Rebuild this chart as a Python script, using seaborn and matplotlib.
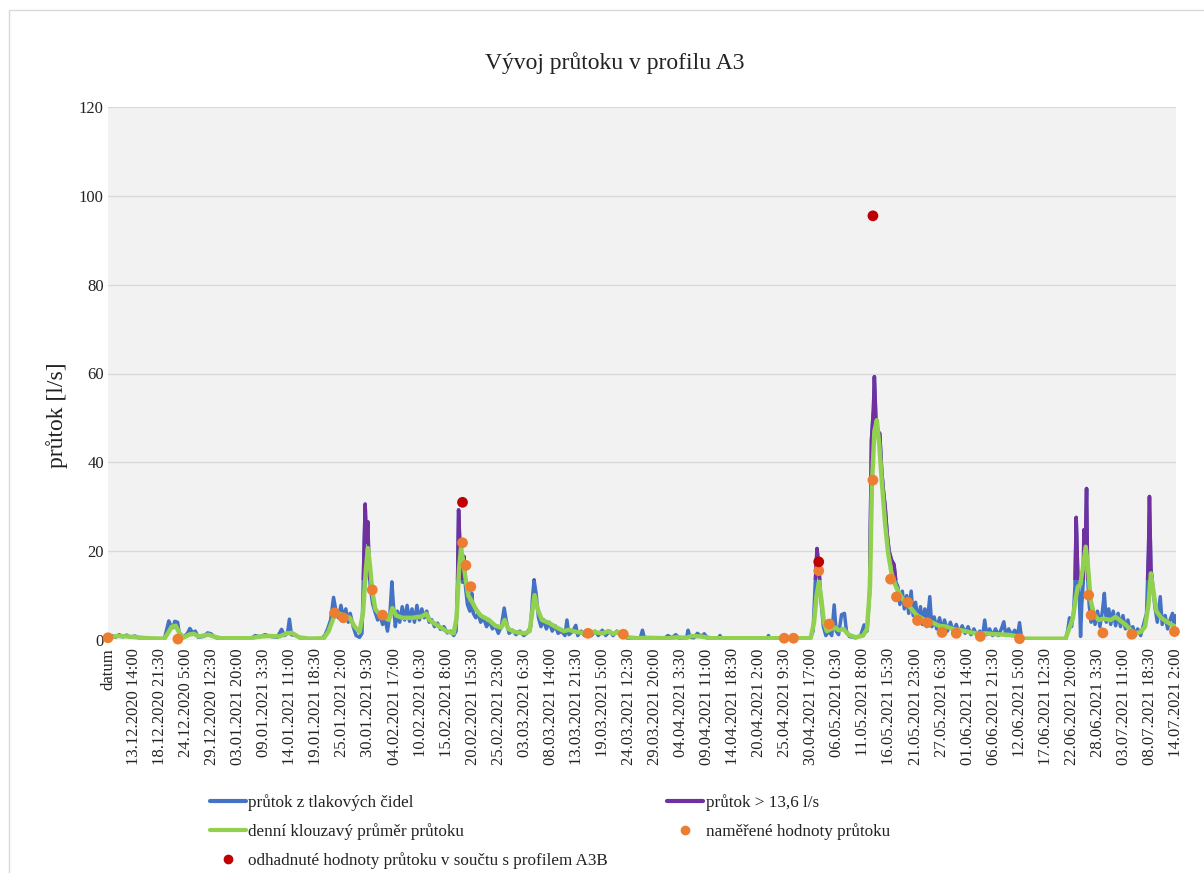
import numpy as np
import pandas as pd
import matplotlib
matplotlib.use("Agg")
import matplotlib.pyplot as plt
from matplotlib.patches import Rectangle
from matplotlib.lines import Line2D
import seaborn as sns

# ---------------------------------------------------------------------------
# Data (x = days since the first category "datum", y = flow in l/s)
# ---------------------------------------------------------------------------
title = "Vývoj průtoku v profilu A3"
y_label = "průtok [l/s]"
threshold = 13.6  # l/s

series_names = [
    "průtok z tlakových čidel",
    "průtok > 13,6 l/s",
    "denní klouzavý průměr průtoku",
    "naměřené hodnoty průtoku",
    "odhadnuté hodnoty průtoku v součtu s profilem A3B",
]

tick_labels = [
    "datum", "13.12.2020 14:00", "18.12.2020 21:30", "24.12.2020 5:00",
    "29.12.2020 12:30", "03.01.2021 20:00", "09.01.2021 3:30", "14.01.2021 11:00",
    "19.01.2021 18:30", "25.01.2021 2:00", "30.01.2021 9:30", "04.02.2021 17:00",
    "10.02.2021 0:30", "15.02.2021 8:00", "20.02.2021 15:30", "25.02.2021 23:00",
    "03.03.2021 6:30", "08.03.2021 14:00", "13.03.2021 21:30", "19.03.2021 5:00",
    "24.03.2021 12:30", "29.03.2021 20:00", "04.04.2021 3:30", "09.04.2021 11:00",
    "14.04.2021 18:30", "20.04.2021 2:00", "25.04.2021 9:30", "30.04.2021 17:00",
    "06.05.2021 0:30", "11.05.2021 8:00", "16.05.2021 15:30", "21.05.2021 23:00",
    "27.05.2021 6:30", "01.06.2021 14:00", "06.06.2021 21:30", "12.06.2021 5:00",
    "17.06.2021 12:30", "22.06.2021 20:00", "28.06.2021 3:30", "03.07.2021 11:00",
    "08.07.2021 18:30", "14.07.2021 2:00",
]
tick_step_days = 5.3125  # 127.5 h between labelled categories

# pressure-sensor flow (day, l/s)
raw_flow = [
    (0.0, 0.6), (0.8, 1.0), (1.5, 0.6), (2.3, 1.2), (3.0, 0.7), (3.8, 1.1),
    (4.5, 0.6), (5.5, 0.9), (6.3, 0.5), (7.5, 0.4), (9.0, 0.3), (11.5, 0.3),
    (12.0, 2.5), (12.4, 4.3), (12.9, 3.0), (13.3, 2.8), (13.6, 4.2), (14.2, 4.0),
    (14.6, 0.8), (15.3, 0.5), (16.2, 1.5), (16.7, 2.6), (17.3, 1.6), (17.8, 2.0),
    (18.4, 0.6), (19.5, 0.8), (20.3, 1.6), (21.0, 1.4), (21.8, 0.6), (23.0, 0.3),
    (26.0, 0.3), (29.3, 0.4), (30.0, 1.0), (31.0, 0.7), (32.0, 1.2), (33.2, 0.8),
    (34.5, 0.6), (35.4, 2.4), (36.0, 1.0), (36.6, 1.5), (37.0, 4.7), (37.4, 1.2),
    (38.3, 1.0), (39.2, 0.5), (40.5, 0.3), (43.5, 0.3), (44.2, 1.0), (44.8, 2.5),
    (45.4, 4.5), (46.0, 9.6), (46.5, 6.5), (47.0, 5.0), (47.5, 7.8), (48.0, 5.0),
    (48.5, 7.0), (49.0, 4.0), (49.4, 6.0), (50.0, 3.0), (50.6, 1.0), (51.3, 0.6),
    (51.8, 1.5), (52.2, 20.0), (52.45, 30.6), (52.7, 22.0), (53.0, 26.6),
    (53.25, 15.0), (53.6, 11.0), (54.0, 8.0), (54.4, 6.5), (55.0, 4.5), (55.5, 5.5),
    (56.0, 3.5), (56.5, 4.8), (57.0, 2.0), (57.5, 6.0), (57.9, 13.1), (58.2, 8.0),
    (58.6, 3.0), (59.0, 6.5), (59.5, 4.0), (60.0, 7.5), (60.5, 4.5), (61.0, 7.8),
    (61.5, 4.2), (62.0, 7.0), (62.5, 4.0), (63.0, 7.8), (63.5, 4.5), (64.0, 7.0),
    (64.5, 5.0), (65.0, 6.5), (65.5, 4.0), (66.0, 4.6), (66.6, 3.0), (67.2, 3.8),
    (67.8, 2.4), (68.5, 3.0), (69.2, 1.6), (69.9, 2.0), (70.5, 1.0), (71.0, 2.0),
    (71.3, 14.0), (71.5, 29.3), (71.75, 22.0), (72.0, 16.0), (72.3, 13.0),
    (72.6, 18.8), (72.9, 12.0), (73.3, 8.0), (73.8, 6.5), (74.2, 10.5), (74.5, 6.0),
    (75.0, 5.0), (75.5, 6.0), (76.0, 4.0), (76.6, 5.0), (77.2, 3.0), (77.8, 4.2),
    (78.4, 2.5), (79.0, 3.2), (79.6, 1.5), (80.2, 3.0), (80.8, 7.2), (81.2, 4.5),
    (81.8, 1.5), (82.5, 2.2), (83.2, 1.2), (84.0, 2.0), (84.8, 1.0), (85.5, 1.6),
    (86.2, 3.0), (86.6, 10.0), (86.9, 13.5), (87.3, 10.5), (87.8, 5.0), (88.3, 3.0),
    (88.8, 4.6), (89.4, 2.5), (90.0, 4.0), (90.6, 2.0), (91.2, 3.2), (91.8, 1.5),
    (92.5, 2.0), (93.2, 1.0), (93.6, 4.5), (94.0, 1.2), (94.8, 2.0), (95.4, 3.3),
    (95.8, 1.0), (96.5, 2.0), (97.2, 1.0), (97.9, 1.8), (98.6, 1.0), (99.3, 2.0),
    (100.0, 1.0), (100.8, 2.2), (101.5, 1.0), (102.3, 2.0), (103.0, 1.0),
    (103.8, 2.0), (104.5, 1.0), (105.2, 0.8), (106.0, 0.4), (108.5, 0.3),
    (109.0, 2.2), (109.4, 0.4), (113.5, 0.4), (114.2, 1.0), (115.0, 0.5),
    (115.8, 1.2), (116.5, 0.4), (118.0, 0.5), (118.3, 2.2), (118.7, 0.6),
    (119.5, 0.5), (120.2, 1.5), (121.0, 0.8), (121.6, 1.4), (122.3, 0.4),
    (124.5, 0.4), (124.8, 1.0), (125.2, 0.3), (134.4, 0.3), (134.7, 1.0),
    (135.0, 0.3), (143.2, 0.3), (143.8, 2.0), (144.2, 12.0), (144.6, 20.6),
    (145.0, 16.0), (145.4, 9.0), (145.9, 3.0), (146.4, 1.0), (147.0, 2.0),
    (147.6, 1.0), (148.1, 7.9), (148.5, 2.0), (149.0, 1.2), (149.6, 5.7),
    (150.2, 6.0), (150.6, 2.0), (151.2, 0.8), (152.5, 0.5), (153.5, 1.0),
    (154.2, 3.4), (154.8, 2.0), (155.3, 10.0), (155.7, 45.0), (156.1, 52.0),
    (156.3, 59.3), (156.6, 50.0), (157.0, 47.0), (157.4, 46.5), (157.8, 38.0),
    (158.2, 33.0), (158.5, 30.0), (158.9, 24.0), (159.3, 20.0), (159.8, 18.0),
    (160.3, 17.0), (160.7, 13.0), (161.1, 12.0), (161.5, 8.0), (162.0, 11.0),
    (162.4, 7.0), (162.9, 10.0), (163.3, 6.0), (163.8, 11.0), (164.2, 5.5),
    (164.7, 8.5), (165.2, 4.0), (165.7, 7.5), (166.1, 3.5), (166.6, 7.0),
    (167.0, 3.0), (167.6, 9.75), (168.0, 3.0), (168.5, 5.2), (169.0, 2.5),
    (169.6, 5.0), (170.1, 2.0), (170.6, 4.5), (171.2, 2.0), (171.8, 4.0),
    (172.4, 1.8), (173.0, 3.5), (173.6, 1.5), (174.2, 3.2), (174.8, 1.5),
    (175.4, 3.0), (176.0, 1.2), (176.6, 2.5), (177.2, 1.0), (177.8, 2.0),
    (178.4, 1.0), (178.8, 4.5), (179.2, 1.2), (179.8, 2.5), (180.4, 1.0),
    (181.0, 2.5), (181.6, 1.0), (182.2, 2.5), (182.7, 4.1), (183.1, 1.0),
    (183.7, 2.5), (184.3, 1.0), (184.9, 2.2), (185.5, 1.0), (185.9, 3.9),
    (186.3, 0.5), (187.0, 0.2), (195.3, 0.2), (195.7, 2.0), (196.1, 5.0),
    (196.5, 3.0), (196.9, 6.0), (197.2, 12.0), (197.46, 27.6), (197.8, 14.0),
    (198.1, 10.0), (198.35, 0.8), (198.6, 8.0), (198.9, 13.0), (199.02, 24.8),
    (199.3, 20.0), (199.57, 34.1), (199.8, 14.0), (200.1, 8.0), (200.5, 4.0),
    (200.9, 7.0), (201.3, 3.5), (201.8, 6.5), (202.3, 3.0), (202.8, 6.5),
    (203.2, 10.5), (203.6, 4.0), (204.1, 7.0), (204.5, 3.5), (205.0, 6.5),
    (205.5, 3.2), (206.0, 6.0), (206.5, 3.0), (207.0, 5.5), (207.5, 2.5),
    (208.0, 4.5), (208.5, 1.5), (209.0, 3.0), (209.5, 1.0), (210.0, 2.5),
    (210.6, 1.0), (211.2, 3.5), (211.8, 6.0), (212.2, 20.0), (212.4, 32.3),
    (212.7, 16.0), (213.1, 12.0), (213.5, 7.5), (214.0, 4.0), (214.6, 9.75),
    (215.0, 3.5), (215.6, 5.5), (216.1, 2.5), (216.6, 4.5), (217.1, 6.0),
    (217.5, 3.0), (217.8, 5.5),
]

# daily moving average (day, l/s)
daily_mean = [
    (0.0, 0.6), (2.0, 0.9), (4.0, 0.8), (6.0, 0.6), (8.0, 0.4), (11.5, 0.3),
    (12.2, 1.5), (13.0, 3.0), (13.8, 3.2), (14.6, 1.5), (15.5, 0.6), (16.5, 1.2),
    (17.5, 1.4), (18.5, 0.8), (20.5, 1.2), (21.5, 0.8), (23.0, 0.4), (29.0, 0.4),
    (31.0, 0.8), (33.0, 0.9), (35.0, 0.8), (36.5, 1.5), (37.5, 1.6), (39.0, 0.6),
    (41.0, 0.3), (44.0, 0.4), (45.0, 2.0), (46.0, 5.0), (47.0, 6.0), (48.0, 5.5),
    (49.3, 5.0), (50.3, 3.0), (51.3, 1.8), (52.0, 6.0), (52.6, 16.0), (53.0, 20.7),
    (53.4, 17.0), (53.9, 11.0), (54.5, 7.0), (55.5, 5.5), (56.5, 5.0), (57.3, 4.5),
    (58.0, 7.2), (58.8, 5.5), (60.0, 5.0), (62.0, 5.0), (64.0, 5.3), (64.9, 5.9),
    (65.6, 4.5), (67.0, 3.4), (69.0, 2.0), (70.5, 1.5), (71.1, 5.0), (71.6, 16.0),
    (72.0, 20.7), (72.4, 18.0), (72.9, 14.0), (73.5, 10.0), (74.3, 8.5), (75.0, 7.0),
    (76.0, 5.5), (77.7, 4.5), (79.0, 3.2), (80.2, 2.8), (80.9, 4.5), (81.6, 2.5),
    (83.0, 1.8), (85.0, 1.5), (86.0, 2.0), (86.6, 7.0), (87.0, 10.1), (87.6, 7.0),
    (88.5, 4.5), (90.0, 3.8), (91.5, 2.8), (93.0, 2.0), (94.0, 2.3), (95.5, 1.8),
    (97.0, 1.6), (99.0, 1.8), (101.0, 1.5), (102.0, 2.0), (103.0, 1.4), (104.0, 1.8),
    (105.0, 1.3), (106.0, 0.6), (108.0, 0.4), (110.0, 0.5), (114.0, 0.4),
    (116.0, 0.6), (118.0, 0.5), (119.0, 0.9), (121.0, 0.8), (123.0, 0.4),
    (143.3, 0.4), (144.0, 4.0), (144.5, 10.0), (145.0, 13.1), (145.5, 9.0),
    (146.0, 4.0), (146.6, 2.0), (147.5, 2.5), (148.3, 2.8), (149.0, 2.2),
    (150.0, 2.5), (151.0, 1.2), (152.5, 0.6), (154.0, 1.0), (154.8, 2.5),
    (155.4, 12.0), (155.8, 35.0), (156.3, 47.0), (156.8, 49.5), (157.3, 44.0),
    (157.8, 36.0), (158.5, 26.0), (159.1, 19.6), (159.8, 15.0), (160.5, 12.5),
    (161.2, 10.8), (162.2, 9.0), (163.5, 7.5), (165.0, 5.5), (166.6, 4.5),
    (168.0, 4.0), (169.5, 3.2), (171.0, 3.0), (172.5, 2.4), (174.0, 2.2),
    (175.5, 1.8), (177.5, 1.4), (179.0, 1.5), (181.0, 1.3), (183.0, 1.2),
    (184.2, 1.1), (185.5, 0.8), (187.0, 0.3), (195.3, 0.3), (196.0, 2.5),
    (196.8, 5.0), (197.3, 9.0), (197.8, 12.0), (198.3, 12.5), (198.8, 16.0),
    (199.4, 21.0), (199.9, 16.0), (200.4, 9.0), (201.0, 6.0), (202.0, 4.5),
    (203.0, 4.8), (204.5, 4.5), (205.5, 5.2), (206.5, 4.3), (207.5, 3.5),
    (208.6, 2.2), (209.5, 1.5), (210.6, 1.8), (211.5, 3.0), (212.2, 8.0),
    (212.7, 15.0), (213.2, 11.0), (213.8, 6.5), (214.8, 5.0), (215.8, 4.2),
    (216.8, 3.5), (217.8, 3.0),
]

# measured flows (day, l/s)
measured = [
    (0.0, 0.5), (14.25, 0.2), (46.2, 6.1), (48.0, 5.0), (53.9, 11.3), (56.0, 5.6),
    (72.3, 21.9), (73.0, 16.8), (74.0, 12.0), (97.9, 1.5), (105.1, 1.3),
    (137.9, 0.4), (139.8, 0.4), (144.95, 15.6), (147.1, 3.6), (156.0, 36.0),
    (159.6, 13.7), (160.8, 9.7), (163.1, 8.5), (165.1, 4.4), (167.1, 3.9),
    (170.1, 1.7), (173.0, 1.5), (177.9, 0.8), (185.9, 0.3), (200.0, 10.1),
    (200.5, 5.6), (202.9, 1.6), (208.8, 1.3), (217.5, 1.9),
]

# estimated flows summed with profile A3B (day, l/s)
estimated_a3b = [(72.3, 31.0), (144.95, 17.6), (156.0, 95.5)]

# ---------------------------------------------------------------------------
raw_df = pd.DataFrame(raw_flow, columns=["day", "flow"])
mean_df = pd.DataFrame(daily_mean, columns=["day", "flow"])
meas_df = pd.DataFrame(measured, columns=["day", "flow"])
est_df = pd.DataFrame(estimated_a3b, columns=["day", "flow"])

c_blue, c_purple, c_green = "#4472C4", "#7030A0", "#92D050"
c_orange, c_red = "#ED7D31", "#C00000"
text_c = "#222222"

sns.set_theme(style="white")
plt.rcParams["font.family"] = ["Liberation Serif", "DejaVu Serif"]
plt.rcParams["text.color"] = text_c

W, H = 1204, 873
fig = plt.figure(figsize=(W / 100, H / 100), dpi=100)
fig.patch.set_facecolor("white")

# faint chart-area border
fig.patches.append(Rectangle((9 / W, -0.05), 1.2, 1 - 10 / H + 0.05,
                             transform=fig.transFigure, fill=False,
                             edgecolor="#D9D9D9", linewidth=1.0))

left, right, top, bottom = 108, 1176, 107, 640
ax = fig.add_axes([left / W, 1 - bottom / H, (right - left) / W, (bottom - top) / H])
ax.set_facecolor("#F2F2F2")

sns.lineplot(data=raw_df, x="day", y="flow", ax=ax, color=c_blue, linewidth=2.5,
             estimator=None, sort=False, legend=False, zorder=2)
sns.lineplot(data=raw_df, x="day", y="flow", ax=ax, color=c_purple, linewidth=2.5,
             estimator=None, sort=False, legend=False, zorder=3)
above = Rectangle((-10, threshold), 400, 500, transform=ax.transData)
ax.lines[-1].set_clip_path(above)
sns.lineplot(data=mean_df, x="day", y="flow", ax=ax, color=c_green, linewidth=3.2,
             estimator=None, sort=False, legend=False, zorder=4)
sns.scatterplot(data=meas_df, x="day", y="flow", ax=ax, color=c_orange, s=60,
                edgecolor="none", legend=False, zorder=5, clip_on=False)
sns.scatterplot(data=est_df, x="day", y="flow", ax=ax, color=c_red, s=60,
                edgecolor="none", legend=False, zorder=6, clip_on=False)

ax.set_xlim(0, (len(tick_labels) - 1) * tick_step_days)
ax.set_ylim(0, 120)
ax.set_yticks(np.arange(0, 121, 20))
ax.yaxis.grid(True, color="#D9D9D9", linewidth=1.0)
ax.set_axisbelow(True)
ax.set_xticks(np.arange(len(tick_labels)) * tick_step_days)
ax.set_xticklabels(tick_labels, rotation=90, va="top", ha="center")
ax.tick_params(axis="both", length=0, labelsize=12, colors=text_c)
ax.tick_params(axis="x", pad=6)
ax.tick_params(axis="y", pad=3)
for s in ax.spines.values():
    s.set_visible(False)
ax.set_xlabel("")
ax.set_ylabel("")

fig.text(57 / W, 1 - 415 / H, y_label, rotation=90, ha="center", va="center",
         fontsize=17, color=text_c)
fig.text(615 / W, 1 - 63 / H, title, ha="center", va="center", fontsize=17,
         color=text_c)

handles = [
    Line2D([], [], color=c_blue, linewidth=3),
    Line2D([], [], color=c_green, linewidth=3),
    Line2D([], [], color=c_red, marker="o", linestyle="none", markersize=6),
    Line2D([], [], color=c_purple, linewidth=3),
    Line2D([], [], color=c_orange, marker="o", linestyle="none", markersize=6),
]
labels = [series_names[0], series_names[2], series_names[4],
          series_names[1], series_names[3]]
fig.legend(handles, labels, loc="upper left", bbox_to_anchor=(210 / W, 1 - 794 / H),
           ncol=2, frameon=False, fontsize=12.3, handlelength=2.1,
           handletextpad=0.15, labelspacing=0.7, columnspacing=3.45,
           borderpad=0, borderaxespad=0)

fig.savefig("out.png", dpi=100)
